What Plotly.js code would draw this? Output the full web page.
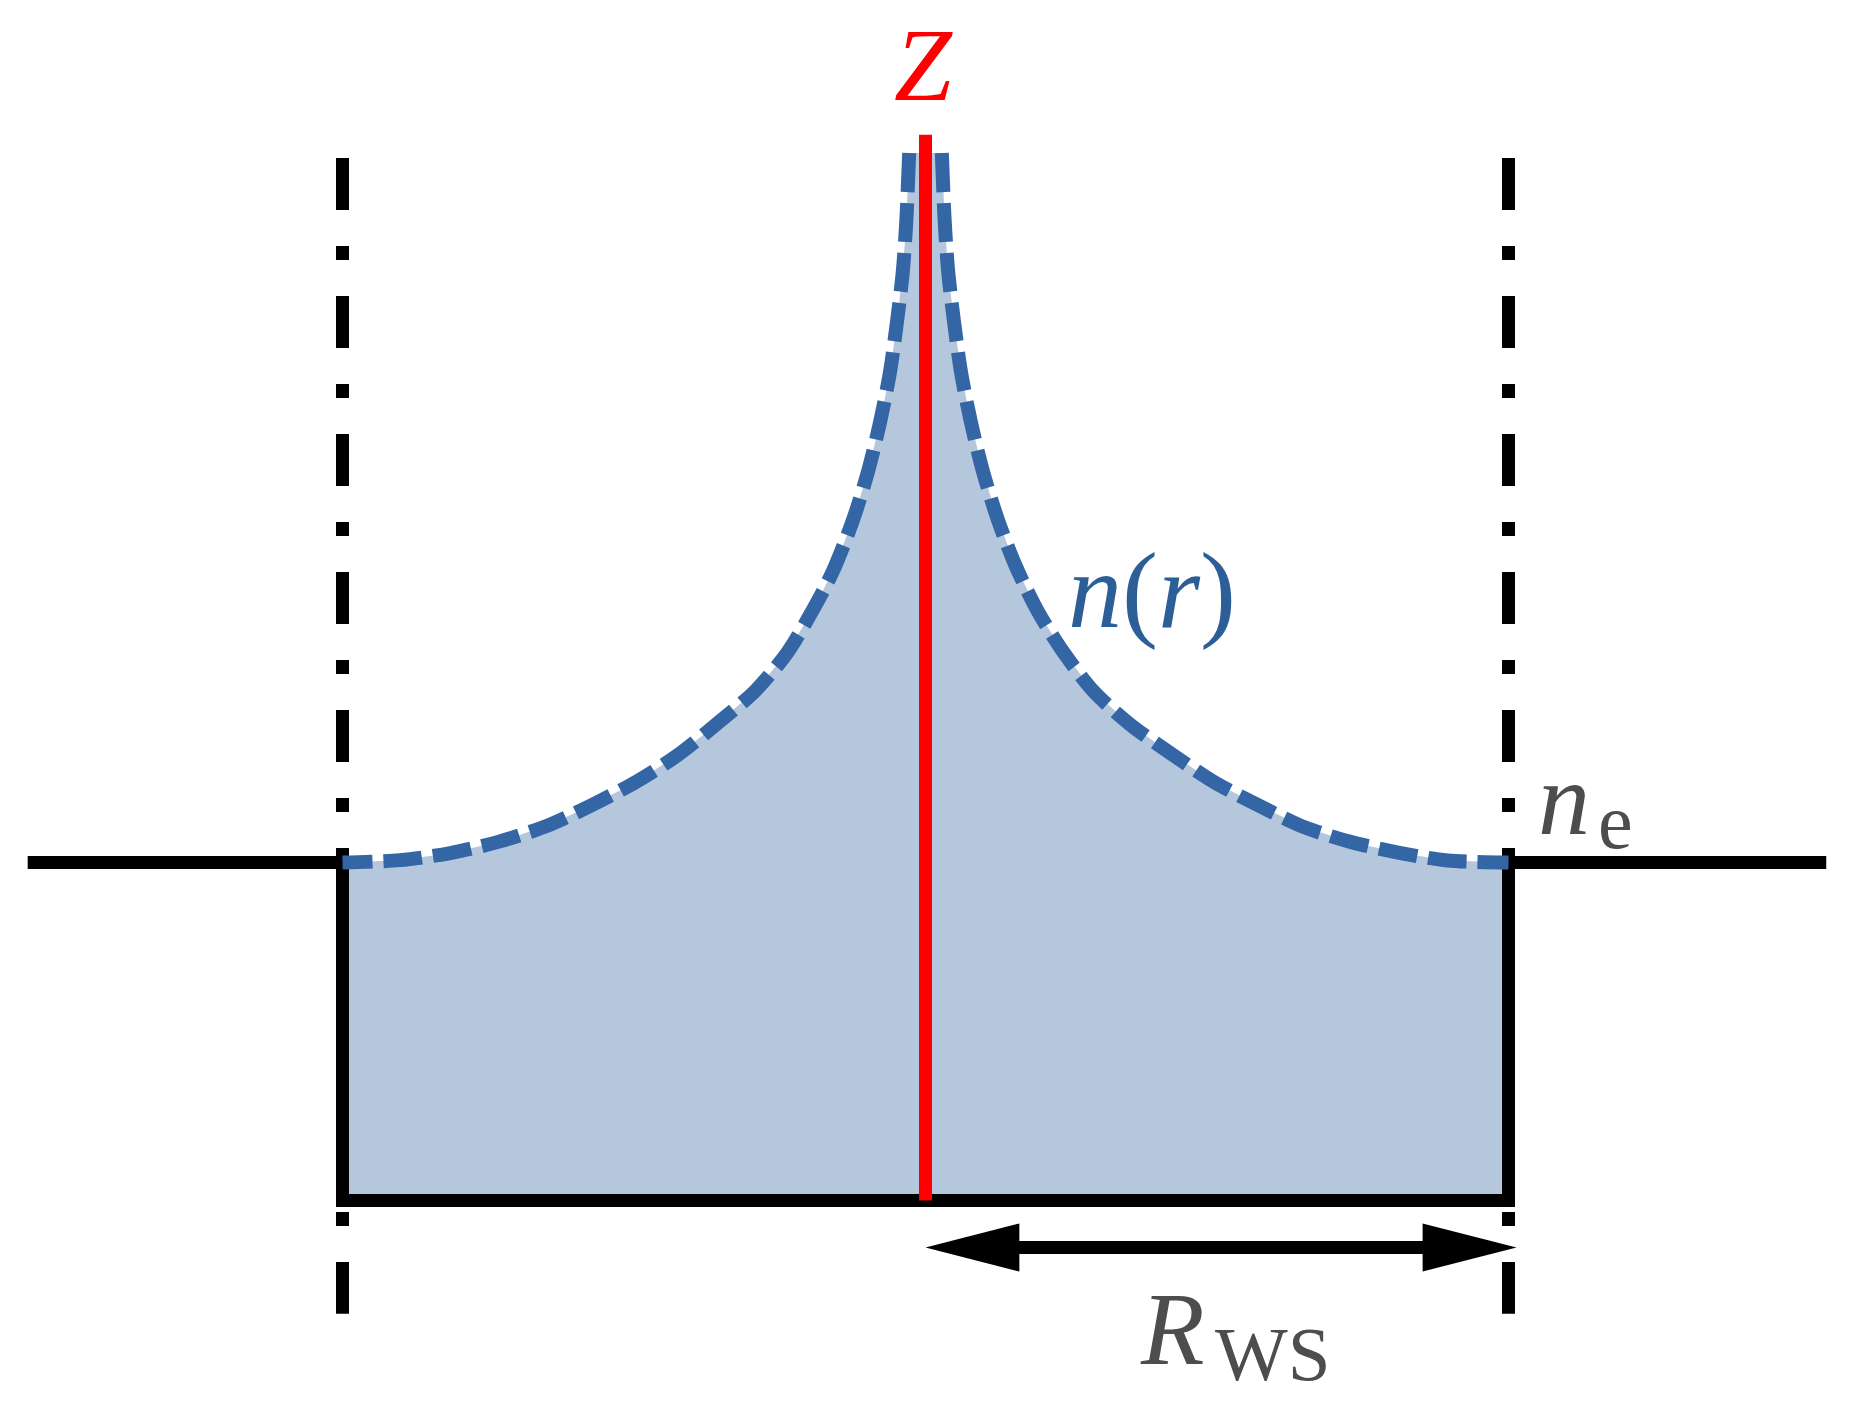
<!DOCTYPE html>
<html>
<head>
<meta charset="utf-8">
<script src="https://cdn.plot.ly/plotly-3.0.1.min.js"></script>
<style>
  html, body { margin: 0; padding: 0; background: #ffffff; }
  #chart { width: 1867px; height: 1411px; }
</style>
</head>
<body>
<div id="chart"></div>
<script>
// ---- data (r in units of R_WS, density in units of n_e) ----
const R_WS = 1.0;
const n_e = 1.0;
const zLineTop = 3.153;          // top of the red nucleus line
const cellLineTop = 3.084;       // top of dash-dot cell boundaries
const cellLineBottom = -0.335;   // bottom of dash-dot cell boundaries
const outerLeft = -1.54;         // outer black n_e line, left end
const outerRight = 1.545;        // outer black n_e line, right end

// n(r), left branch (from centre outwards)
const r_left = [-0.028, -0.033, -0.039, -0.049, -0.061, -0.078, -0.099, -0.124, -0.159, -0.193, -0.237, -0.292, -0.356, -0.424, -0.496, -0.572, -0.650, -0.733, -0.815, -0.901, -1.0];
const n_left = [3.099, 2.895, 2.747, 2.599, 2.450, 2.302, 2.154, 2.015, 1.861, 1.748, 1.621, 1.508, 1.413, 1.319, 1.239, 1.170, 1.108, 1.061, 1.028, 1.007, 1.0];
// n(r), right branch (from centre outwards)
const r_right = [0.028, 0.033, 0.039, 0.049, 0.061, 0.078, 0.099, 0.124, 0.155, 0.193, 0.237, 0.289, 0.352, 0.424, 0.494, 0.570, 0.649, 0.729, 0.815, 0.895, 1.0];
const n_right = [3.099, 2.895, 2.747, 2.599, 2.450, 2.302, 2.154, 2.015, 1.876, 1.742, 1.621, 1.505, 1.407, 1.319, 1.239, 1.170, 1.105, 1.061, 1.028, 1.006, 1.0];

// arrow (R_WS) geometry
const arrowY = -0.139;
const headLen = 0.161;
const headHalf = 0.0711;
const arrowTipRight = 1.0137;

// ---- colours / styles ----
const fillCol = '#b4c7dc';
const curveCol = '#3465a4';
const labelBlue = '#2c5f98';
const grey = '#4d4d4d';
const LW = 13;
const FONT = 'Liberation Serif';

// fill polygon built from the branches
const fillX = [-R_WS, -R_WS].concat(r_left.slice().reverse(), r_right, [R_WS, R_WS]);
const fillY = [0, n_e].concat(n_left.slice().reverse(), n_right, [n_e, 0]);

const traces = [
  { x: fillX, y: fillY, mode: 'lines', fill: 'toself', fillcolor: fillCol,
    line: { width: 0, color: fillCol }, hoverinfo: 'skip' },
  // dash-dot cell boundaries
  { x: [-R_WS, -R_WS], y: [cellLineTop, cellLineBottom], mode: 'lines',
    line: { color: '#000', width: LW, dash: '52px,36px,14px,36px' } },
  { x: [R_WS, R_WS], y: [cellLineTop, cellLineBottom], mode: 'lines',
    line: { color: '#000', width: LW, dash: '52px,36px,14px,36px' } },
  // n_e level + box
  { x: [outerLeft, -R_WS, -R_WS, R_WS, R_WS, outerRight],
    y: [n_e, n_e, 0, 0, n_e, n_e], mode: 'lines',
    line: { color: '#000', width: LW } },
  // dashed n(r)
  { x: r_left, y: n_left, mode: 'lines',
    line: { color: curveCol, width: 14, dash: '39px,11px', shape: 'spline', smoothing: 0.8 } },
  { x: r_right, y: n_right, mode: 'lines',
    line: { color: curveCol, width: 14, dash: '39px,11px', shape: 'spline', smoothing: 0.8 } },
  // red Z line
  { x: [0, 0], y: [0, zLineTop], mode: 'lines', line: { color: '#ff0000', width: LW } },
  // arrow shaft
  { x: [headLen - 0.01, arrowTipRight - headLen + 0.01], y: [arrowY, arrowY], mode: 'lines',
    line: { color: '#000', width: LW } },
  // arrow heads
  { x: [0, headLen, headLen, 0], y: [arrowY, arrowY + headHalf, arrowY - headHalf, arrowY],
    mode: 'lines', fill: 'toself', fillcolor: '#000', line: { width: 0, color: '#000' } },
  { x: [arrowTipRight, arrowTipRight - headLen, arrowTipRight - headLen, arrowTipRight],
    y: [arrowY, arrowY + headHalf, arrowY - headHalf, arrowY],
    mode: 'lines', fill: 'toself', fillcolor: '#000', line: { width: 0, color: '#000' } }
];

const annotations = [
  { x: -0.003, y: 3.36, xref: 'x', yref: 'y', text: '<i>Z</i>', showarrow: false,
    xanchor: 'center', yanchor: 'middle', font: { family: FONT, size: 104, color: '#ff0000' } },
  { x: 0.2405, y: 1.802, xref: 'x', yref: 'y', text: '<i>n</i>(<i>r</i>)', showarrow: false,
    xanchor: 'left', yanchor: 'middle', font: { family: FONT, size: 108, color: labelBlue } },
  { x: 1.047, y: 1.188, xref: 'x', yref: 'y', text: '<i>n</i>', showarrow: false,
    xanchor: 'left', yanchor: 'middle', font: { family: FONT, size: 104, color: grey } },
  { x: 1.150, y: 1.12, xref: 'x', yref: 'y', text: 'e', showarrow: false,
    xanchor: 'left', yanchor: 'middle', font: { family: FONT, size: 78, color: grey } },
  { x: 0.364, y: -0.378, xref: 'x', yref: 'y', text: '<i>R</i>', showarrow: false,
    xanchor: 'left', yanchor: 'middle', font: { family: FONT, size: 104, color: grey } },
  { x: 0.4925, y: -0.455, xref: 'x', yref: 'y', text: 'WS', showarrow: false,
    xanchor: 'left', yanchor: 'middle', font: { family: FONT, size: 77, color: grey } }
];

const layout = {
  width: 1867, height: 1411,
  margin: { l: 0, r: 0, t: 0, b: 0, pad: 0 },
  paper_bgcolor: '#ffffff', plot_bgcolor: '#ffffff',
  showlegend: false,
  xaxis: { range: [-1.58748, 1.61492], visible: false, showgrid: false, zeroline: false, fixedrange: true },
  yaxis: { range: [-0.62278, 3.55178], visible: false, showgrid: false, zeroline: false, fixedrange: true },
  annotations: annotations
};

Plotly.newPlot('chart', traces, layout, { staticPlot: true, displayModeBar: false });
</script>
</body>
</html>
